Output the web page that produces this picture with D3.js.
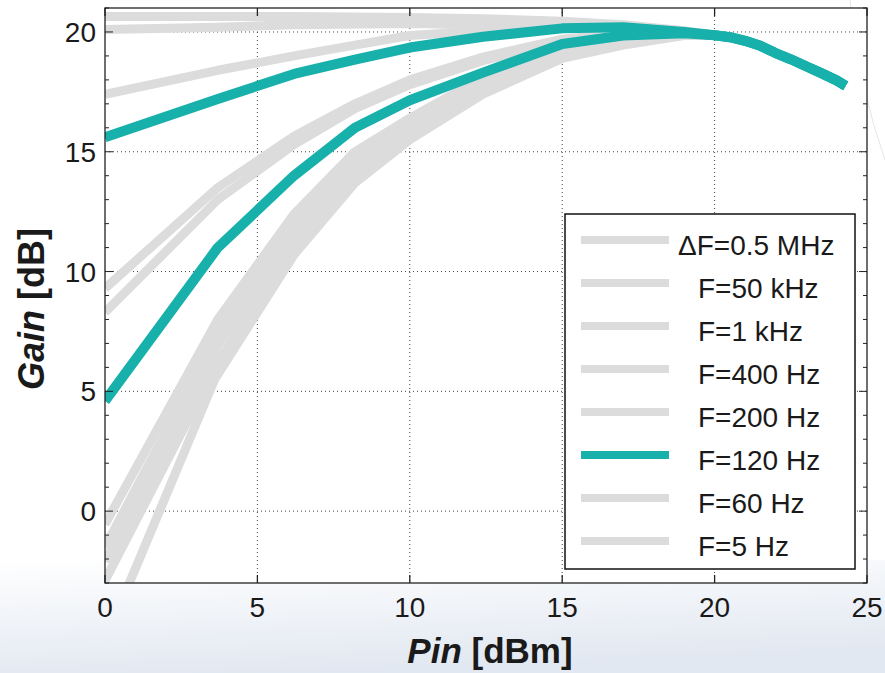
<!DOCTYPE html>
<html>
<head>
<meta charset="utf-8">
<script src="https://cdn.jsdelivr.net/npm/d3@7"></script>
<style>
	body { margin: 0; background: #fff; }
	text { font-family: "Liberation Sans", Arial, sans-serif; fill: #1a1a1a; }
</style>
</head>
<body>
<div id="container"></div>
<script>
// gain vs input power, each curve is a list of [Pin dBm, Gain dB]
// above ~20 dBm every curve sits on the same compression tail
var tailPoints = [[20,19.86],[20.5,19.78],[21,19.63],[21.5,19.42],[22,19.12],[22.5,18.86],[23,18.57],[23.5,18.28],[24,17.98],[24.3,17.75]];

var gainDF05MHz_a = [[0,20.65],[3.7,20.65],[6.2,20.65],[10,20.6],[12.4,20.55],[15,20.45],[17,20.3],[19,20.05]];
var gainDF05MHz_b = [[0,20.1],[3.7,20.2],[6.2,20.3],[10,20.35],[12.4,20.3],[15,20.2],[17,20.1],[19,19.98]];
var gain50kHz = [[0,17.4],[3.7,18.4],[6.2,19.0],[8.2,19.45],[10,19.85],[12.4,20.05],[15,20.15],[17,20.1],[19,19.98]];
var gain1kHz = [[0,9.3],[3.7,13.5],[6.2,15.65],[8.2,17.0],[10,18.0],[12.4,18.95],[15,19.7],[17,19.95],[19,19.95]];
var gain400Hz = [[0,8.3],[3.7,13.0],[6.2,15.3],[8.2,16.8],[10,17.8],[12.4,18.8],[15,19.6],[17,19.9],[19,19.95]];
var gain200Hz = [[0,-0.55],[3.7,8.0],[6.2,12.4],[8.2,15.0],[10,16.4],[12.4,18.1],[15,19.4],[17,19.75],[19,19.95]];
var gain120Hz_a = [[0,15.6],[3.7,17.2],[6.2,18.25],[8.2,18.85],[10,19.35],[12.4,19.8],[15,20.15],[17,20.2],[19,20.0]];
var gain120Hz_b = [[0,4.6],[3.7,11.0],[6.2,14.0],[8.2,16.0],[10,17.15],[12.4,18.3],[15,19.5],[17,19.85],[19,19.95]];
var gain60Hz_a = [[0,-1.5],[3.7,7.4],[6.2,12.0],[8.2,14.6],[10,16.2],[12.4,17.9],[15,19.25],[17,19.7],[19,19.9]];
var gain60Hz_b = [[0,-2.1],[3.7,6.9],[6.2,11.5],[8.2,14.3],[10,15.9],[12.4,17.7],[15,19.1],[17,19.6],[19,19.9]];
var gain5Hz_a = [[0,-2.9],[3.7,6.2],[6.2,11.1],[8.2,14.0],[10,15.7],[12.4,17.55],[15,19.0],[17,19.55],[19,19.88]];
var gain5Hz_b = [[0.7,-3.3],[3.6,5.5],[6.2,10.7],[8.2,13.7],[10,15.5],[12.4,17.4],[15,18.9],[17,19.45],[19,19.85]];

// legend entries (label, curves), only 120 Hz is highlighted
var legendLabels = ['\u0394F=0.5 MHz','F=50 kHz','F=1 kHz','F=400 Hz','F=200 Hz','F=120 Hz','F=60 Hz','F=5 Hz'];
var legendCurves = [[gainDF05MHz_a, gainDF05MHz_b],[gain50kHz],[gain1kHz],[gain400Hz],[gain200Hz],[gain120Hz_a, gain120Hz_b],[gain60Hz_a, gain60Hz_b],[gain5Hz_a, gain5Hz_b]];
var highlight = 'F=120 Hz';

var xTicks = [0, 5, 10, 15, 20, 25];
var yTicks = [0, 5, 10, 15, 20];
var yMinorTicks = d3.range(-3, 22, 1);

var width = 885, height = 673;
var plot = {left: 105, top: 8, right: 867, bottom: 583};
var grey = '#dcdcdc', teal = '#17b0ab';

var svg = d3.select('#container').append('svg')
	.attr('width', width)
	.attr('height', height);

// faint slide background at the bottom
var defs = svg.append('defs');
var grad = defs.append('linearGradient').attr('id', 'bg').attr('x1', 0).attr('y1', 0).attr('x2', 0.3).attr('y2', 1);
grad.append('stop').attr('offset', '0%').attr('stop-color', '#ffffff');
grad.append('stop').attr('offset', '100%').attr('stop-color', '#e2e8f1');
svg.append('rect').attr('x', 0).attr('y', 560).attr('width', width).attr('height', height - 560).attr('fill', 'url(#bg)');
svg.append('path')
	.attr('d', 'M850,0 Q860,90 885,160')
	.attr('fill', 'none').attr('stroke', '#e6e6e6').attr('stroke-width', 1);

defs.append('clipPath').attr('id', 'clip')
	.append('rect')
	.attr('x', plot.left).attr('y', plot.top)
	.attr('width', plot.right - plot.left).attr('height', plot.bottom - plot.top);

var x = d3.scaleLinear().domain([0, 25]).range([plot.left, plot.right]);
var y = d3.scaleLinear().domain([-3, 21]).range([plot.bottom, plot.top]);

svg.append('rect')
	.attr('x', plot.left).attr('y', plot.top)
	.attr('width', plot.right - plot.left).attr('height', plot.bottom - plot.top)
	.attr('fill', '#fff');

// dotted grid
var grid = svg.append('g').attr('stroke', '#444').attr('stroke-width', 1).attr('stroke-dasharray', '1,3');
grid.selectAll('.gx').data(xTicks.slice(1, -1)).enter().append('line')
	.attr('x1', d => x(d)).attr('x2', d => x(d))
	.attr('y1', plot.top).attr('y2', plot.bottom);
grid.selectAll('.gy').data(yTicks).enter().append('line')
	.attr('y1', d => y(d)).attr('y2', d => y(d))
	.attr('x1', plot.left).attr('x2', plot.right);

// curves (straight segments between measured points)
var line = d3.line().x(d => x(d[0])).y(d => y(d[1]));
var lines = svg.append('g').attr('clip-path', 'url(#clip)');
var allCurves = [];
legendLabels.forEach(function(l, i) {
	legendCurves[i].forEach(function(c) { allCurves.push({label: l, pts: c.concat(tailPoints)}); });
});
// grey first, highlighted on top
allCurves.sort((a, b) => (a.label == highlight) - (b.label == highlight));
lines.selectAll('path').data(allCurves).enter().append('path')
	.attr('d', d => line(d.pts))
	.attr('fill', 'none')
	.attr('stroke', d => d.label == highlight ? teal : grey)
	.attr('stroke-width', d => d.label == highlight ? 10 : 9)
	.attr('stroke-linejoin', 'round');

// axes, ticks point inward like matlab
var axes = svg.append('g').attr('stroke', '#222').attr('stroke-width', 1.3);
axes.append('rect')
	.attr('x', plot.left).attr('y', plot.top)
	.attr('width', plot.right - plot.left).attr('height', plot.bottom - plot.top)
	.attr('fill', 'none');
xTicks.forEach(function(t) {
	axes.append('line').attr('x1', x(t)).attr('x2', x(t)).attr('y1', plot.bottom).attr('y2', plot.bottom - 8);
	axes.append('line').attr('x1', x(t)).attr('x2', x(t)).attr('y1', plot.top).attr('y2', plot.top + 8);
});
yMinorTicks.forEach(function(t) {
	var len = yTicks.includes(t) ? 8 : 4;
	axes.append('line').attr('y1', y(t)).attr('y2', y(t)).attr('x1', plot.left).attr('x2', plot.left + len).attr('stroke-width', 1);
	axes.append('line').attr('y1', y(t)).attr('y2', y(t)).attr('x1', plot.right).attr('x2', plot.right - len).attr('stroke-width', 1);
});

svg.append('g').selectAll('text').data(xTicks).enter().append('text')
	.attr('x', d => x(d)).attr('y', 617)
	.attr('text-anchor', 'middle')
	.style('font-size', '28px')
	.text(d => d);
svg.append('g').selectAll('text').data(yTicks).enter().append('text')
	.attr('x', 96).attr('y', d => y(d) + 10)
	.attr('text-anchor', 'end')
	.style('font-size', '28px')
	.text(d => d);

// axis titles
var xt = svg.append('text')
	.attr('x', 490).attr('y', 663)
	.attr('text-anchor', 'middle')
	.style('font-size', '35px').style('font-weight', 'bold');
xt.append('tspan').style('font-style', 'italic').text('Pin');
xt.append('tspan').text(' [dBm]');

var yt = svg.append('text')
	.attr('transform', 'translate(44,309) rotate(-90)')
	.attr('text-anchor', 'middle')
	.style('font-size', '36px').style('font-weight', 'bold');
yt.append('tspan').style('font-style', 'italic').text('Gain');
yt.append('tspan').text(' [dB]');

// legend
var lg = svg.append('g');
lg.append('rect')
	.attr('x', 565).attr('y', 214).attr('width', 290).attr('height', 355)
	.attr('fill', '#fff').attr('stroke', '#111').attr('stroke-width', 1.5);
var rows = lg.selectAll('.legend').data(legendLabels).enter().append('g')
	.attr('class', 'legend')
	.attr('transform', (d, i) => 'translate(0,' + (240 + i * 43) + ')');
rows.append('line')
	.attr('x1', 581).attr('x2', 669)
	.attr('stroke', d => d == highlight ? teal : grey)
	.attr('stroke-width', 8);
rows.append('text')
	.attr('x', d => d.charAt(0) == '\u0394' ? 678 : 698)
	.attr('y', 15)
	.style('font-size', '28px')
	.text(d => d);
</script>
</body>
</html>
